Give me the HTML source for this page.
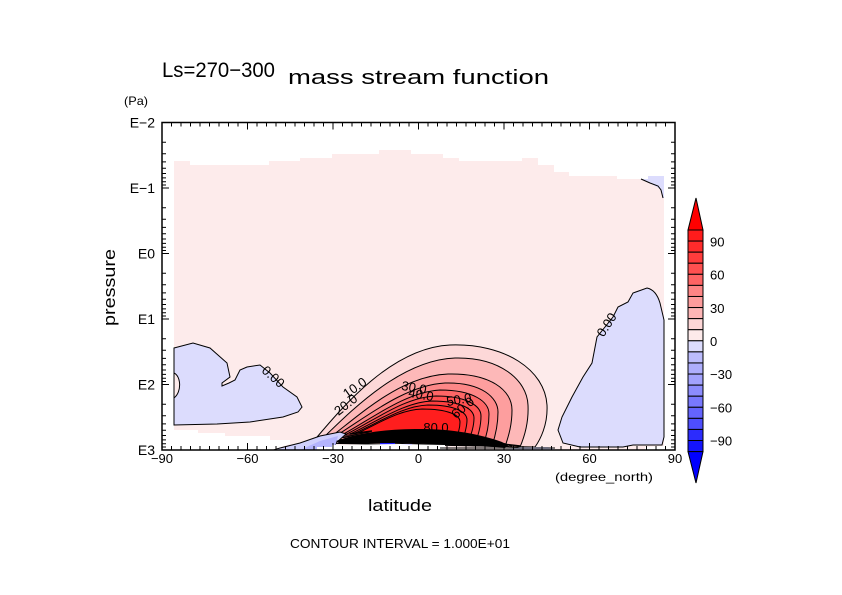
<!DOCTYPE html>
<html><head><meta charset="utf-8"><style>
html,body{margin:0;padding:0;background:#fff;}
svg{display:block;}
text{font-family:"Liberation Sans",sans-serif;fill:#000;}
</style></head><body>
<svg width="842" height="595" viewBox="0 0 842 595" xmlns="http://www.w3.org/2000/svg">
<rect width="842" height="595" fill="#fff"/>
<!-- pink base -->
<path d="M174,161 L190,161 L190,165 L269,165 L269,161 L300,161 L300,158 L332,158 L332,154 L379,154 L379,150 L411,150 L411,154 L443,154 L443,158 L459,158 L459,161 L522,161 L522,158 L538,158 L538,165 L554,165 L554,172 L569,172 L569,176 L617,176 L617,179 L648,179 L648,176 L664,176 L664,450 L174,450 Z" fill="#fdebeb"/>
<!-- top-right blue patch -->
<path d="M641,179 L648,179 L648,176 L664,176 L664,198 L663,198 L660,189 L650,183 Z" fill="#dcdcfd"/>
<path d="M641,179 L650,183 L658,186 L661,190 L663,198" fill="none" stroke="#000" stroke-width="1"/>
<!-- left blue blob -->
<path d="M174,348 L193,343 L210,348 L227,363 L230,377 L222,383 L222,386 L229,383 L235,380 L240,370 L247,367 L260,365 L270,373 L283,387 L297,397 L302,407 L298,412 L283,417 L250,422 L217,424 L174,425 Z" fill="#dcdcfd" stroke="#000" stroke-width="1"/>
<path d="M174,373 C181,376 182,392 174,398 Z" fill="#fdebeb" stroke="#000" stroke-width="1"/>
<!-- right blue blob -->
<path d="M647,288 C652,289 657,293 660,303 L664,320 L664,437 L662,445 L633,445 L623,447 L580,447 L563,443 L558,430 L562,417 L572,397 L583,377 L592,363 L597,337 L613,317 L618,307 L628,302 L633,293 Z" fill="#dcdcfd" stroke="#000" stroke-width="1"/>
<!-- red cell -->
<g stroke="#000" stroke-width="1">
<path d="M312,443 C340,410 390,348 450,345 C505,343 545,370 547,405 C548,425 540,440 535,447 Z" fill="#fdd8d8"/>
<path d="M320,441 C350,412 400,360 455,358 C500,357 527,380 528,405 C529,425 523,440 520,447 Z" fill="#fdb8b8"/>
<path d="M328,439 C360,415 400,376 448,374 C490,373 512,390 512,410 C512,428 507,440 505,447 Z" fill="#fd9e9e"/>
<path d="M334,437 C365,418 405,385 445,383 C482,382 498,398 498,412 C498,428 494,440 492,446 Z" fill="#fd8787"/>
<path d="M340,436 C370,420 405,392 440,390 C474,390 489,402 489,414 C489,428 485,440 483,445 Z" fill="#fe6666"/>
<path d="M345,435 C375,420 405,397 436,396 C467,396 481,406 481,416 C481,428 477,438 475,444 Z" fill="#ff5252"/>
<path d="M350,434 C378,421 405,402 432,401 C461,401 474,409 474,418 C474,428 470,437 468,443 Z" fill="#ff3e3e"/>
<path d="M355,433 C380,422 403,406 428,405 C455,405 467,412 467,420 C467,428 464,436 462,442 Z" fill="#ff2d2d"/>
<path d="M360,432 C383,421 400,410 422,409 C448,409 460,415 460,422 C460,430 457,436 455,441 Z" fill="#ff1e1e"/>
</g>
<!-- blue strip bottom-left -->
<path d="M272,450 L300,443 L320,436 L340,432 L346,434 L336,443 L333,450 Z" fill="#d0d0fd" stroke="#000" stroke-width="1"/>
<path d="M300,450 L320,441 L338,436 L334,450 Z" fill="#b4b4fd"/>
<path d="M505,450 L520,447 L548,447 L556,450 Z" fill="#dcdcfd"/>
<!-- black band -->
<path d="M336,441 C358,433 385,429 420,429 C452,429 480,434 502,442 L510,447 L470,446 L445,444 L400,443 L340,444 Z" fill="#000"/>
<path d="M350,434 L372,431 M445,441 C470,440 495,443 520,446 M460,437 C480,439 500,442 512,446" fill="none" stroke="#000" stroke-width="1.5"/>
<path d="M380,444 L395,444 M400,445 L412,445" stroke="#2020ff" stroke-width="2"/>
<!-- white topography -->
<path d="M174,430 L198,430 L198,433 L225,433 L225,436 L270,436 L270,440 L290,440 L290,444 L272,450 L174,450 Z" fill="#fff"/>
<path d="M332,445 L400,444 L445,445 L445,450 L332,450 Z" fill="#fff"/>
<path d="M317,447 L332,447 L332,450 L317,450 Z" fill="#fff"/>
<path d="M645,447 L664,446 L664,450 L645,450 Z" fill="#fff"/>
<path d="M440,448 L555,448" stroke="#000" stroke-width="1"/>
<!-- contour labels -->
<g font-size="13">
<text x="273" y="381" text-anchor="middle" transform="rotate(42 273 377)">0.00</text>
<text x="607" y="329" text-anchor="middle" transform="rotate(-57 607 325)">0.00</text>
<text x="355" y="392" text-anchor="middle" transform="rotate(-35 355 388)">10.0</text>
<text x="346" y="409" text-anchor="middle" transform="rotate(-38 346 405)">20.0</text>
<text x="414" y="392" text-anchor="middle" transform="rotate(10 414 388)">30.0</text>
<text x="421" y="399" text-anchor="middle" transform="rotate(10 421 395)">40.0</text>
<text x="459" y="404" text-anchor="middle" transform="rotate(-10 459 400)">50.0</text>
<text x="463" y="412" text-anchor="middle" transform="rotate(-40 463 408)">60.0</text>
<text x="436" y="432" text-anchor="middle">80.0</text>
</g>
<!-- axes frame -->
<rect x="162" y="122.5" width="513" height="327.5" fill="none" stroke="#000" stroke-width="1.5"/>
<!-- x ticks -->
<path stroke="#000" stroke-width="1" fill="none" d="
M171.5 450v-4M181 450v-4M190.5 450v-4M200 450v-4M209.5 450v-4M219 450v-4M228.5 450v-4M238 450v-4
M257 450v-4M266.5 450v-4M276 450v-4M285.5 450v-4M295 450v-4M304.5 450v-4M314 450v-4M323.5 450v-4
M342.5 450v-4M352 450v-4M361.5 450v-4M371 450v-4M380.5 450v-4M390 450v-4M399.5 450v-4M409 450v-4
M428 450v-4M437.5 450v-4M447 450v-4M456.5 450v-4M466 450v-4M475.5 450v-4M485 450v-4M494.5 450v-4
M513.5 450v-4M523 450v-4M532.5 450v-4M542 450v-4M551.5 450v-4M561 450v-4M570.5 450v-4M580 450v-4
M599 450v-4M608.5 450v-4M618 450v-4M627.5 450v-4M637 450v-4M646.5 450v-4M656 450v-4M665.5 450v-4
M247.5 450v-7M333 450v-7M418.5 450v-7M504 450v-7M589.5 450v-7
M171.5 122.5v4M181 122.5v4M190.5 122.5v4M200 122.5v4M209.5 122.5v4M219 122.5v4M228.5 122.5v4M238 122.5v4
M257 122.5v4M266.5 122.5v4M276 122.5v4M285.5 122.5v4M295 122.5v4M304.5 122.5v4M314 122.5v4M323.5 122.5v4
M342.5 122.5v4M352 122.5v4M361.5 122.5v4M371 122.5v4M380.5 122.5v4M390 122.5v4M399.5 122.5v4M409 122.5v4
M428 122.5v4M437.5 122.5v4M447 122.5v4M456.5 122.5v4M466 122.5v4M475.5 122.5v4M485 122.5v4M494.5 122.5v4
M513.5 122.5v4M523 122.5v4M532.5 122.5v4M542 122.5v4M551.5 122.5v4M561 122.5v4M570.5 122.5v4M580 122.5v4
M599 122.5v4M608.5 122.5v4M618 122.5v4M627.5 122.5v4M637 122.5v4M646.5 122.5v4M656 122.5v4M665.5 122.5v4
M247.5 122.5v7M333 122.5v7M418.5 122.5v7M504 122.5v7M589.5 122.5v7
"/>
<!-- y ticks -->
<path stroke="#000" stroke-width="1" fill="none" d="
M162 142.2h4M162 153.8h4M162 161.9h4M162 168.3h4M162 173.5h4M162 177.9h4M162 181.7h4M162 185h4
M162 207.7h4M162 219.3h4M162 227.4h4M162 233.8h4M162 239h4M162 243.4h4M162 247.2h4M162 250.5h4
M162 273.2h4M162 284.8h4M162 292.9h4M162 299.3h4M162 304.5h4M162 308.9h4M162 312.7h4M162 316h4
M162 338.7h4M162 350.3h4M162 358.4h4M162 364.8h4M162 370h4M162 374.4h4M162 378.2h4M162 381.5h4
M162 404.2h4M162 415.8h4M162 423.9h4M162 430.3h4M162 435.5h4M162 439.9h4M162 443.7h4M162 447h4
M162 188h7M162 253.5h7M162 319h7M162 384.5h7
M675 142.2h-4M675 153.8h-4M675 161.9h-4M675 168.3h-4M675 173.5h-4M675 177.9h-4M675 181.7h-4M675 185h-4
M675 207.7h-4M675 219.3h-4M675 227.4h-4M675 233.8h-4M675 239h-4M675 243.4h-4M675 247.2h-4M675 250.5h-4
M675 273.2h-4M675 284.8h-4M675 292.9h-4M675 299.3h-4M675 304.5h-4M675 308.9h-4M675 312.7h-4M675 316h-4
M675 338.7h-4M675 350.3h-4M675 358.4h-4M675 364.8h-4M675 370h-4M675 374.4h-4M675 378.2h-4M675 381.5h-4
M675 404.2h-4M675 415.8h-4M675 423.9h-4M675 430.3h-4M675 435.5h-4M675 439.9h-4M675 443.7h-4M675 447h-4
M675 188h-7M675 253.5h-7M675 319h-7M675 384.5h-7
"/>
<!-- y labels -->
<g font-size="14" text-anchor="end">
<text x="155" y="127.5">E−2</text>
<text x="155" y="193">E−1</text>
<text x="155" y="258.5">E0</text>
<text x="155" y="324">E1</text>
<text x="155" y="389.5">E2</text>
<text x="155" y="455">E3</text>
</g>
<text x="124" y="105" font-size="12" textLength="24" lengthAdjust="spacingAndGlyphs">(Pa)</text>
<!-- x labels -->
<g font-size="13" text-anchor="middle">
<text x="162" y="463">−90</text>
<text x="247.5" y="463">−60</text>
<text x="333" y="463">−30</text>
<text x="418.5" y="463">0</text>
<text x="504" y="463">30</text>
<text x="589.5" y="463">60</text>
<text x="675" y="463">90</text>
</g>
<text x="555" y="481" font-size="12" textLength="98" lengthAdjust="spacingAndGlyphs">(degree_north)</text>
<text x="368" y="511" font-size="17" textLength="64" lengthAdjust="spacingAndGlyphs">latitude</text>
<text x="290" y="548" font-size="13" textLength="220" lengthAdjust="spacingAndGlyphs">CONTOUR INTERVAL = 1.000E+01</text>
<text x="0" y="0" font-size="17" textLength="77" lengthAdjust="spacingAndGlyphs" transform="translate(115,326) rotate(-90)">pressure</text>
<!-- titles -->
<text x="162" y="77" font-size="21" textLength="113" lengthAdjust="spacingAndGlyphs">Ls=270−300</text>
<text x="288" y="84" font-size="20" textLength="261" lengthAdjust="spacingAndGlyphs">mass stream function</text>
<!-- colorbar -->
<g stroke="#000" stroke-width="1">
<path d="M688,230 L696,198 L703,230 Z" fill="#ff0000"/>
<rect x="688" y="230" width="15" height="11.08" fill="#ff1c1c"/>
<rect x="688" y="241.08" width="15" height="11.08" fill="#ff2b2b"/>
<rect x="688" y="252.16" width="15" height="11.08" fill="#ff3c3c"/>
<rect x="688" y="263.24" width="15" height="11.08" fill="#ff5050"/>
<rect x="688" y="274.32" width="15" height="11.08" fill="#fe6464"/>
<rect x="688" y="285.4" width="15" height="11.08" fill="#fd8585"/>
<rect x="688" y="296.48" width="15" height="11.08" fill="#fd9c9c"/>
<rect x="688" y="307.56" width="15" height="11.08" fill="#fdb6b6"/>
<rect x="688" y="318.64" width="15" height="11.08" fill="#fdd6d6"/>
<rect x="688" y="329.72" width="15" height="11.08" fill="#fdeaea"/>
<rect x="688" y="340.8" width="15" height="11.08" fill="#dcdcfd"/>
<rect x="688" y="351.88" width="15" height="11.08" fill="#bcbcfd"/>
<rect x="688" y="362.96" width="15" height="11.08" fill="#aeaefd"/>
<rect x="688" y="374.04" width="15" height="11.08" fill="#a2a2fd"/>
<rect x="688" y="385.12" width="15" height="11.08" fill="#8c8cfd"/>
<rect x="688" y="396.2" width="15" height="11.08" fill="#7878fd"/>
<rect x="688" y="407.28" width="15" height="11.08" fill="#6464fd"/>
<rect x="688" y="418.36" width="15" height="11.08" fill="#4e4efd"/>
<rect x="688" y="429.44" width="15" height="11.08" fill="#2c2cfd"/>
<rect x="688" y="440.52" width="15" height="11.08" fill="#1414fd"/>
<path d="M688,451.6 L696,483 L703,451.6 Z" fill="#0000ff"/>
</g>
<g font-size="13">
<text x="710" y="246.5">90</text>
<text x="710" y="279.7">60</text>
<text x="710" y="312.9">30</text>
<text x="710" y="346">0</text>
<text x="710" y="379.2">−30</text>
<text x="710" y="412.4">−60</text>
<text x="710" y="445.6">−90</text>
</g>
</svg>
</body></html>
